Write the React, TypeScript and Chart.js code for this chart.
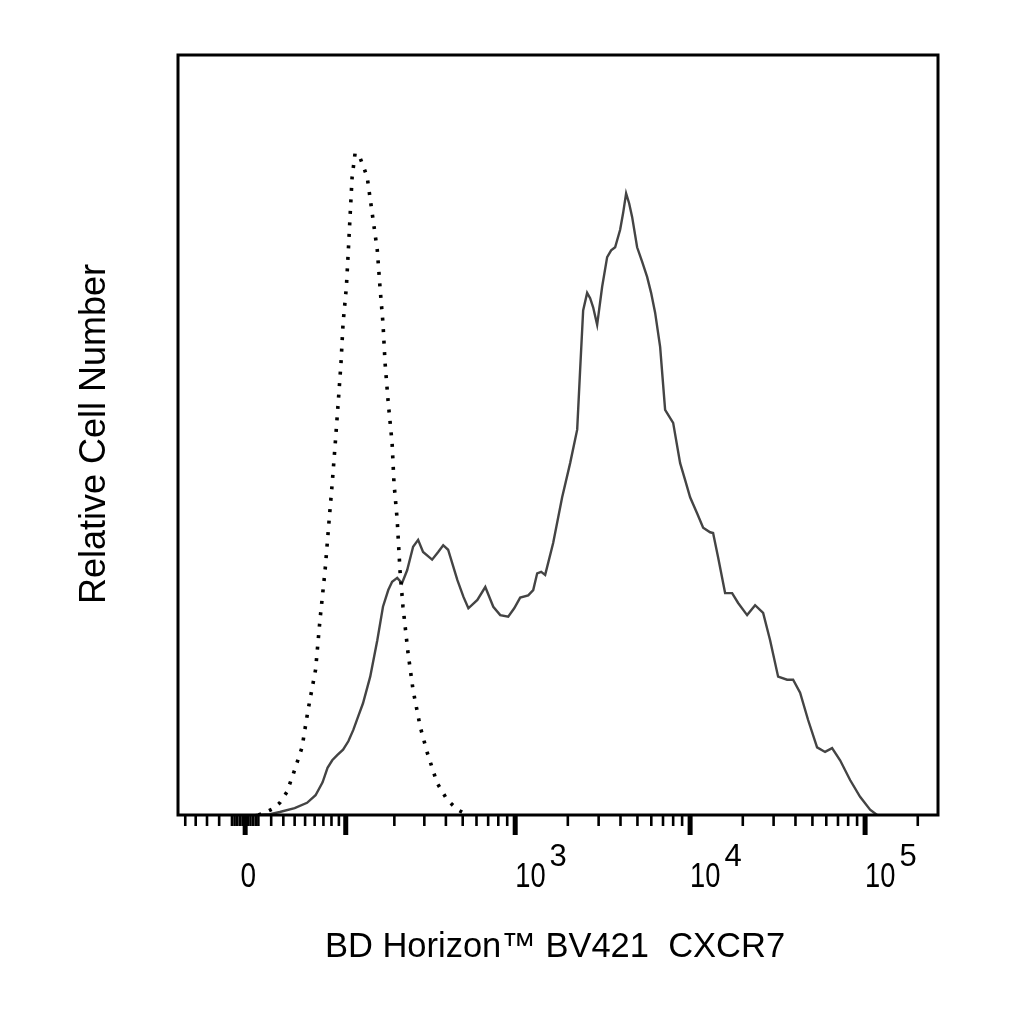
import { useEffect, useRef } from 'react'
import { Chart, LinearScale, registerables } from 'chart.js'

// biexponential display: asinh with linear width W, shown in decades
const BIEX_W = 57.3
const biex = (v: number) => Math.asinh(v / BIEX_W) / Math.LN10
const biexInv = (t: number) => BIEX_W * Math.sinh(t * Math.LN10)

class BiexScale extends LinearScale {
  static id = 'biex'
  static defaults = {}

  getPixelForValue(value: number) {
    if (value === null || value === undefined) return NaN
    const t0 = biex(this.min)
    const t1 = biex(this.max)
    return this.getPixelForDecimal((biex(value) - t0) / (t1 - t0))
  }

  getValueForPixel(pixel: number) {
    const t0 = biex(this.min)
    const t1 = biex(this.max)
    return biexInv(t0 + this.getDecimalForPixel(pixel) * (t1 - t0))
  }
}

Chart.register(...registerables, BiexScale)

// CXCR7 stained cells (solid)
const stainedIntensity = [
  8, 19, 27, 40, 52, 61, 69, 75, 81, 88, 96, 104, 112, 120, 129, 143, 158, 171, 184, 194,
  208, 222, 238, 258, 276, 295, 333, 361, 386, 412, 466, 505, 539, 607, 674, 749, 821, 912, 987, 1068,
  1187, 1268, 1336, 1408, 1484, 1649, 1856, 2062, 2262, 2352, 2447, 2579, 2683, 2791, 2942, 3142, 3356, 3537, 3728, 3981,
  4141, 4308, 4481, 4662, 4979, 5317, 5679, 5985, 6310, 6740, 7197, 8000, 8770, 9360, 10000, 10960, 11870, 13010, 13530, 14450,
  15850, 17380, 18810, 21170, 23520, 26140, 28650, 31840, 35840, 38780, 42520, 47240, 53170, 59070, 64770, 71970, 82090, 93630, 106800, 117100,
]
const stainedCount = [
  0, 0.1, 0.4, 0.9, 1.6, 2.6, 4.3, 6.2, 7.2, 7.9, 8.6, 9.7, 11.2, 12.9, 14.7, 18.2, 23.0, 27.4, 29.6, 30.7,
  31.2, 30.5, 32.2, 35.3, 36.2, 34.6, 33.6, 34.6, 35.5, 34.9, 30.9, 28.7, 27.2, 28.3, 30.0, 27.4, 26.3, 26.1, 27.2, 28.6,
  28.9, 29.6, 31.8, 32.0, 31.6, 35.8, 41.8, 46.3, 50.7, 58.6, 66.4, 68.7, 68.0, 66.8, 64.5, 69.5, 73.4, 74.3, 74.7, 77.0,
  79.2, 81.8, 80.5, 78.7, 74.7, 72.8, 70.8, 68.7, 66.1, 61.6, 53.3, 51.6, 46.3, 44.1, 41.8, 39.7, 37.8, 37.2, 37.1, 33.9,
  29.2, 29.2, 27.9, 26.3, 27.6, 26.6, 23.0, 18.2, 17.8, 17.8, 16.1, 12.5, 8.9, 8.3, 8.8, 7.2, 4.6, 2.4, 0.7, 0,
]

// isotype control (dotted)
const isotypeIntensity = [
  10, 15, 21, 27, 33, 39, 47, 53, 61, 66, 72, 77, 81, 85, 89, 93, 96, 101, 104, 107, 110, 115,
  124, 131, 137, 147, 158, 164, 171, 176, 184, 194, 199, 208, 216, 225, 241, 258, 284, 312, 356, 407, 466, 532,
]
const isotypeCount = [
  0, 0.3, 0.8, 1.6, 3.0, 5.5, 8.9, 13.8, 19.1, 25.7, 32.2, 38.8, 43.7, 48.9, 54.2, 59.5, 64.7, 69.5, 74.3, 79.2, 83.9, 87.1,
  86.4, 85.1, 83.9, 79.2, 74.3, 69.5, 64.7, 59.5, 54.2, 48.9, 43.7, 38.8, 32.2, 27.4, 21.3, 16.4, 11.6, 8.2, 4.2, 2.0, 0.7, 0,
]

const majorTicks = [0, 100, 1000, 10000, 100000]
const minorTicks = [
  -50, -40, -30, -20, -10, -8, -6, -4, -2, 2, 4, 6, 8,
  10, 20, 30, 40, 50, 60, 70, 80, 90,
  200, 300, 400, 500, 600, 700, 800, 900,
  2000, 3000, 4000, 5000, 6000, 7000, 8000, 9000,
  20000, 30000, 40000, 50000, 60000, 70000, 80000, 90000,
  200000,
]
const labelValues = [0, 1000, 10000, 100000]
const labelExponents = ['', '3', '4', '5']

const xTitle = 'BD Horizon™ BV421  CXCR7'
const yTitle = 'Relative Cell Number'

const FONT = '"Liberation Sans", Arial, sans-serif'

const flowAxes = {
  id: 'flowAxes',
  afterDraw(chart: Chart) {
    const { ctx, chartArea: a } = chart
    const x = chart.scales.x
    ctx.save()
    ctx.strokeStyle = '#000'
    ctx.fillStyle = '#000'
    ctx.lineWidth = 3
    ctx.strokeRect(a.left, a.top, a.right - a.left, a.bottom - a.top)

    const tick = (v: number, len: number, w: number) => {
      const px = x.getPixelForValue(v)
      ctx.lineWidth = w
      ctx.beginPath()
      ctx.moveTo(px, a.bottom)
      ctx.lineTo(px, a.bottom + len)
      ctx.stroke()
    }
    minorTicks.forEach(v => tick(v, 11, 2.6))
    majorTicks.forEach(v => tick(v, 20, 5))

    // tick labels, narrow digits like the original
    labelValues.forEach((v, i) => {
      const px = x.getPixelForValue(v)
      const exp = labelExponents[i]
      ctx.font = `35px ${FONT}`
      ctx.textBaseline = 'alphabetic'
      if (!exp) {
        ctx.save()
        ctx.translate(px + 3, a.bottom + 72)
        ctx.scale(0.8, 1)
        ctx.textAlign = 'center'
        ctx.fillText('0', 0, 0)
        ctx.restore()
        return
      }
      const w = ctx.measureText('10').width * 0.78
      ctx.save()
      ctx.translate(px, a.bottom + 72)
      ctx.scale(0.78, 1)
      ctx.textAlign = 'left'
      ctx.fillText('10', 0, 0)
      ctx.restore()
      ctx.font = `31px ${FONT}`
      ctx.textAlign = 'left'
      ctx.fillText(exp, px + w + 4, a.bottom + 51)
    })

    ctx.font = `34.5px ${FONT}`
    ctx.textAlign = 'center'
    ctx.fillText(xTitle, 555, 957)

    ctx.save()
    ctx.font = `36px ${FONT}`
    ctx.translate(105, 434)
    ctx.rotate(-Math.PI / 2)
    ctx.fillText(yTitle, 0, 0)
    ctx.restore()
    ctx.restore()
  },
}

export default function App() {
  const canvasRef = useRef<HTMLCanvasElement>(null)

  useEffect(() => {
    if (!canvasRef.current) return
    const chart = new Chart(canvasRef.current, {
      type: 'line',
      data: {
        datasets: [
          {
            label: 'Isotype control',
            data: isotypeIntensity.map((v, i) => ({ x: v, y: isotypeCount[i] })),
            borderColor: '#000',
            borderWidth: 3.6,
            borderDash: [3, 8.5],
            pointRadius: 0,
            fill: false,
            tension: 0,
          },
          {
            label: 'CXCR7',
            data: stainedIntensity.map((v, i) => ({ x: v, y: stainedCount[i] })),
            borderColor: '#444',
            borderWidth: 2.4,
            pointRadius: 0,
            fill: false,
            tension: 0,
          },
        ],
      },
      options: {
        animation: false,
        responsive: false,
        devicePixelRatio: 1,
        layout: { padding: { left: 178, top: 55, right: 86, bottom: 209 } },
        plugins: { legend: { display: false }, tooltip: { enabled: false } },
        scales: {
          x: { type: 'biex' as any, min: -57.5, max: 261000, display: false },
          y: { type: 'linear', min: 0, max: 100, display: false },
        },
      },
      plugins: [flowAxes],
    })
    return () => { chart.destroy() }
  }, [])

  return (
    <div style={{ position: 'fixed', left: 0, top: 0, width: 1024, height: 1024, background: '#fff' }}>
      <canvas ref={canvasRef} width={1024} height={1024} style={{ display: 'block' }} />
    </div>
  )
}
